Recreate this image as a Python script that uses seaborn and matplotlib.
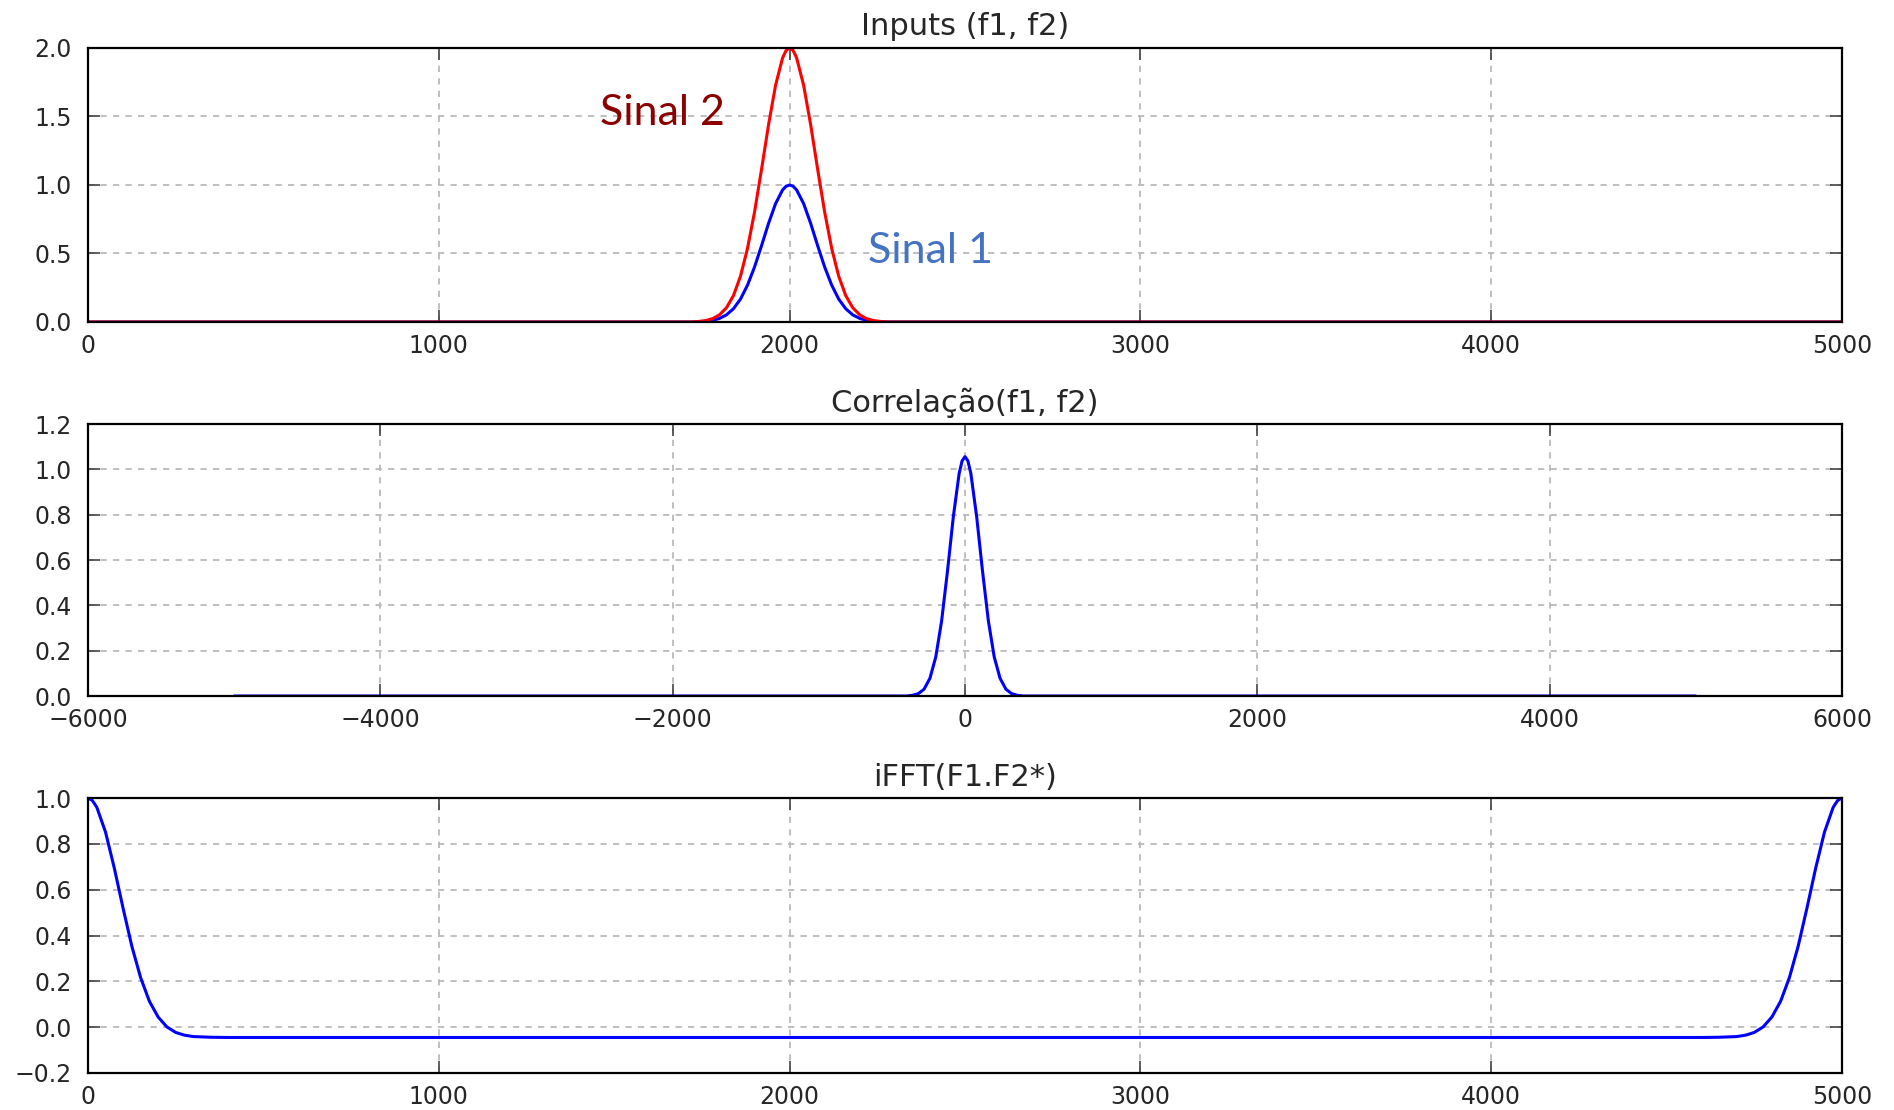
import matplotlib
matplotlib.use("Agg")
import matplotlib.pyplot as plt
import seaborn as sns

# ---------------- data ----------------
# Panel 1: inputs f1 (Sinal 1, blue) and f2 (Sinal 2, red)
inputs_x = [0, 1720, 1740, 1760, 1780, 1800, 1820, 1840, 1860, 1880, 1900,
            1920, 1940, 1960, 1980, 1990, 2000, 2010, 2020, 2040, 2060, 2080, 2100,
            2120, 2140, 2160, 2180, 2200, 2220, 2240, 2260, 2280, 5000]
sinal1_y = [0, 0, 0.002, 0.005, 0.012, 0.026, 0.052, 0.097, 0.167, 0.269, 0.401,
            0.557, 0.720, 0.864, 0.964, 0.991, 1.000, 0.991, 0.964, 0.864, 0.720, 0.557, 0.401,
            0.269, 0.167, 0.097, 0.052, 0.026, 0.012, 0.005, 0.002, 0, 0]
sinal2_y = [0, 0, 0.004, 0.010, 0.024, 0.052, 0.104, 0.193, 0.334, 0.537, 0.802,
            1.114, 1.440, 1.728, 1.928, 1.982, 2.000, 1.982, 1.928, 1.728, 1.440, 1.114, 0.802,
            0.537, 0.334, 0.193, 0.104, 0.052, 0.024, 0.010, 0.004, 0, 0]

# Panel 2: correlation(f1, f2)
corr_x = [-4999, -400, -360, -320, -280, -240, -200, -160, -120, -80, -40, -20, 0,
          20, 40, 80, 120, 160, 200, 240, 280, 320, 360, 400, 4999]
corr_y = [0, 0, 0.003, 0.010, 0.030, 0.078, 0.172, 0.331, 0.550, 0.790, 0.982, 1.037, 1.056,
          1.037, 0.982, 0.790, 0.550, 0.331, 0.172, 0.078, 0.030, 0.010, 0.003, 0, 0]

# Panel 3: iFFT(F1.F2*)
ifft_x = [0, 12, 25, 50, 75, 100, 125, 150, 175, 200, 225, 250, 275, 300, 350, 400,
          4600, 4650, 4700, 4725, 4750, 4775, 4800, 4825, 4850, 4875, 4900,
          4925, 4950, 4975, 4988, 5000]
ifft_y = [1.000, 0.990, 0.960, 0.851, 0.694, 0.519, 0.353, 0.216, 0.113, 0.044, 0.001,
          -0.023, -0.035, -0.041, -0.044, -0.045,
          -0.045, -0.044, -0.041, -0.035, -0.023, 0.001, 0.044, 0.113, 0.216,
          0.353, 0.519, 0.694, 0.851, 0.960, 0.990, 1.000]

titles = ["Inputs (f1, f2)", "Correlação(f1, f2)", "iFFT(F1.F2*)"]
ticks_x1 = [0, 1000, 2000, 3000, 4000, 5000]
ticks_x2 = [-6000, -4000, -2000, 0, 2000, 4000, 6000]
ticks_y1 = [0.0, 0.5, 1.0, 1.5, 2.0]
ticks_y2 = [0.0, 0.2, 0.4, 0.6, 0.8, 1.0, 1.2]
ticks_y3 = [-0.2, 0.0, 0.2, 0.4, 0.6, 0.8, 1.0]
labels = ["Sinal 1", "Sinal 2"]

# ---------------- style ----------------
sns.set_theme(style="white")
plt.rcParams["font.family"] = ["DejaVu Sans"]
plt.rcParams["lines.scale_dashes"] = False
plt.rcParams["axes.unicode_minus"] = True

W, H = 1894, 1110
fig = plt.figure(figsize=(W / 100, H / 100), dpi=100)
fig.patch.set_facecolor("white")


def add_ax(left, top, right, bottom):
    return fig.add_axes([left / W, 1 - bottom / H, (right - left) / W, (bottom - top) / H])


ax1 = add_ax(88, 48, 1842, 322)
ax2 = add_ax(88, 424, 1842, 696)
ax3 = add_ax(88, 798, 1842, 1073)

LW = 2.2
sns.lineplot(x=inputs_x, y=sinal1_y, ax=ax1, color=(0, 0, 1), linewidth=LW)
sns.lineplot(x=inputs_x, y=sinal2_y, ax=ax1, color=(1, 0, 0), linewidth=LW)
sns.lineplot(x=corr_x, y=corr_y, ax=ax2, color=(0, 0, 1), linewidth=LW)
sns.lineplot(x=ifft_x, y=ifft_y, ax=ax3, color=(0, 0, 1), linewidth=LW)


def style(ax, xlim, ylim, xticks, yticks, title):
    ax.set_facecolor("white")
    ax.set_xlim(xlim)
    ax.set_ylim(ylim)
    ax.set_xticks(xticks)
    ax.set_yticks(yticks)
    ax.set_xlabel("")
    ax.set_ylabel("")
    ax.grid(True, color="#b4b4b4", linestyle=(0, (4.5, 4.5)), linewidth=1.2)
    ax.set_axisbelow(True)
    ax.tick_params(direction="in", length=8.5, width=1.2, color="#444444",
                   top=True, right=True, bottom=True, left=True,
                   labelsize=17, labelcolor="#262626")
    ax.tick_params(axis="x", pad=8.5)
    ax.tick_params(axis="y", pad=11.5)
    for s in ax.spines.values():
        s.set_visible(True)
        s.set_color("black")
        s.set_linewidth(1.6)
    ax.set_title(title, fontsize=22, pad=9, color="#262626")


style(ax1, (0, 5000), (0, 2.0), ticks_x1, ticks_y1, titles[0])
style(ax2, (-6000, 6000), (0, 1.2), ticks_x2, ticks_y2, titles[1])
style(ax3, (0, 5000), (-0.2, 1.0), ticks_x1, ticks_y3, titles[2])

ax1.text(1460, 1.44, labels[1], fontfamily="Lato", fontsize=31,
         color="#8B0000", va="baseline", ha="left")
ax1.text(2224, 0.43, labels[0], fontfamily="Lato", fontsize=31,
         color="#4472C4", va="baseline", ha="left")

fig.savefig("out.png", dpi=100, facecolor="white")
